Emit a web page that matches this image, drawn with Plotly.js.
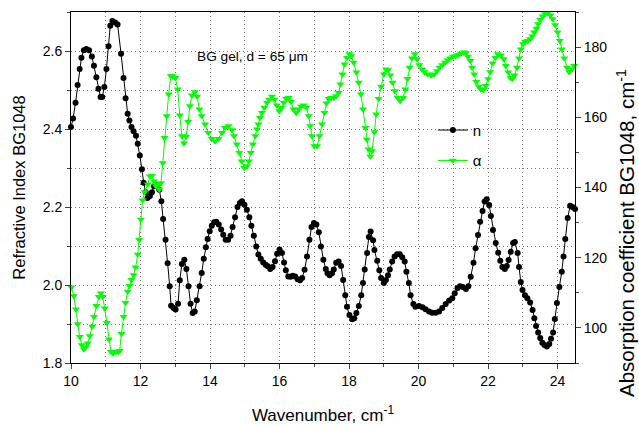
<!DOCTYPE html>
<html>
<head>
<meta charset="utf-8">
<script src="https://cdn.plot.ly/plotly-3.0.1.min.js"></script>
<style>html,body{margin:0;padding:0;background:#fff;}#chart{width:639px;height:425px;}</style>
</head>
<body>
<div id="chart"></div>
<script>
// Refractive index n (left axis)
const nX = [10.00,10.06,10.13,10.19,10.25,10.30,10.37,10.44,10.52,10.60,10.66,10.73,10.79,10.85,10.90,10.96,11.02,11.08,11.13,11.19,11.27,11.34,11.44,11.51,11.57,11.63,11.68,11.74,11.80,11.87,11.92,11.98,12.04,12.09,12.15,12.20,12.27,12.33,12.39,12.46,12.54,12.60,12.65,12.72,12.78,12.84,12.88,12.95,13.01,13.08,13.13,13.19,13.26,13.32,13.38,13.44,13.50,13.56,13.62,13.70,13.76,13.82,13.88,13.93,13.99,14.05,14.12,14.18,14.25,14.32,14.38,14.45,14.52,14.59,14.65,14.72,14.79,14.86,14.92,14.99,15.06,15.13,15.19,15.26,15.33,15.39,15.46,15.53,15.60,15.66,15.73,15.80,15.87,15.93,16.00,16.07,16.13,16.18,16.25,16.32,16.38,16.45,16.52,16.59,16.65,16.72,16.79,16.86,16.92,16.99,17.06,17.13,17.19,17.26,17.33,17.38,17.44,17.51,17.56,17.63,17.70,17.77,17.83,17.89,17.94,18.01,18.09,18.15,18.21,18.28,18.35,18.40,18.45,18.52,18.57,18.62,18.69,18.73,18.81,18.87,18.92,19.00,19.06,19.12,19.17,19.24,19.31,19.38,19.46,19.53,19.60,19.65,19.72,19.77,19.85,19.91,20.01,20.11,20.20,20.30,20.39,20.49,20.59,20.68,20.78,20.88,20.97,21.04,21.12,21.19,21.27,21.36,21.43,21.50,21.58,21.64,21.71,21.77,21.84,21.90,21.96,22.03,22.08,22.14,22.22,22.29,22.35,22.41,22.48,22.54,22.59,22.65,22.72,22.77,22.85,22.89,22.94,22.99,23.06,23.13,23.21,23.28,23.33,23.38,23.44,23.50,23.56,23.62,23.69,23.76,23.81,23.87,23.92,23.98,24.05,24.12,24.17,24.22,24.29,24.36,24.43,24.50];
const nY = [2.405,2.427,2.467,2.513,2.554,2.583,2.602,2.605,2.602,2.586,2.562,2.533,2.503,2.482,2.482,2.508,2.554,2.612,2.665,2.677,2.673,2.668,2.593,2.531,2.479,2.439,2.422,2.405,2.394,2.383,2.362,2.332,2.297,2.262,2.238,2.223,2.228,2.238,2.253,2.256,2.244,2.215,2.169,2.116,2.056,1.997,1.947,1.941,1.937,1.952,2.012,2.054,2.065,2.041,1.997,1.952,1.928,1.932,1.961,1.997,2.031,2.067,2.097,2.118,2.138,2.152,2.161,2.162,2.155,2.142,2.129,2.116,2.116,2.126,2.149,2.174,2.200,2.210,2.215,2.206,2.193,2.174,2.152,2.126,2.099,2.078,2.067,2.058,2.052,2.048,2.041,2.046,2.061,2.080,2.091,2.082,2.058,2.038,2.022,2.021,2.024,2.022,2.015,2.012,2.018,2.039,2.073,2.116,2.149,2.159,2.155,2.135,2.099,2.065,2.041,2.030,2.025,2.030,2.040,2.057,2.060,2.049,2.013,1.974,1.944,1.923,1.912,1.915,1.928,1.946,1.974,2.005,2.040,2.082,2.123,2.137,2.115,2.090,2.062,2.038,2.018,2.005,2.013,2.025,2.040,2.060,2.073,2.079,2.079,2.071,2.060,2.034,2.005,1.974,1.951,1.944,1.946,1.943,1.938,1.932,1.929,1.929,1.932,1.941,1.951,1.960,1.966,1.979,1.992,1.997,1.995,1.990,1.997,2.021,2.057,2.094,2.128,2.162,2.190,2.214,2.220,2.205,2.177,2.141,2.108,2.083,2.062,2.046,2.041,2.049,2.064,2.085,2.108,2.110,2.082,2.046,2.008,1.987,1.974,1.966,1.955,1.936,1.915,1.895,1.878,1.864,1.852,1.846,1.842,1.849,1.862,1.878,1.913,1.954,1.995,2.034,2.073,2.118,2.172,2.203,2.200,2.195];

// Absorption coefficient alpha (right axis)
const aX = [10.01,10.08,10.14,10.19,10.25,10.31,10.37,10.42,10.48,10.54,10.61,10.66,10.73,10.80,10.86,10.91,10.97,11.03,11.09,11.15,11.21,11.29,11.36,11.40,11.45,11.51,11.57,11.63,11.68,11.74,11.80,11.86,11.92,11.96,12.01,12.06,12.12,12.21,12.27,12.33,12.39,12.44,12.49,12.54,12.59,12.64,12.69,12.75,12.81,12.87,12.92,13.00,13.07,13.13,13.19,13.25,13.31,13.37,13.42,13.48,13.56,13.63,13.69,13.76,13.86,13.95,14.05,14.14,14.24,14.34,14.43,14.53,14.63,14.69,14.77,14.84,14.91,14.98,15.06,15.12,15.17,15.23,15.30,15.35,15.39,15.44,15.49,15.56,15.64,15.70,15.78,15.85,15.92,15.99,16.06,16.12,16.19,16.26,16.33,16.40,16.48,16.55,16.62,16.69,16.77,16.84,16.88,16.93,17.00,17.08,17.15,17.22,17.29,17.35,17.41,17.48,17.56,17.63,17.70,17.75,17.81,17.87,17.94,18.01,18.06,18.13,18.21,18.28,18.34,18.40,18.47,18.51,18.56,18.61,18.66,18.73,18.78,18.85,18.92,19.00,19.06,19.12,19.19,19.25,19.32,19.40,19.47,19.55,19.62,19.68,19.74,19.81,19.89,19.95,20.02,20.10,20.17,20.26,20.36,20.45,20.53,20.60,20.68,20.76,20.84,20.91,20.99,21.07,21.14,21.22,21.30,21.36,21.42,21.49,21.54,21.60,21.66,21.73,21.79,21.87,21.93,22.00,22.06,22.13,22.21,22.28,22.37,22.45,22.51,22.58,22.64,22.70,22.76,22.83,22.89,22.94,23.00,23.07,23.14,23.21,23.27,23.33,23.39,23.44,23.50,23.57,23.64,23.71,23.79,23.86,23.93,24.00,24.06,24.12,24.19,24.27,24.33,24.41,24.48];
const aY = [111.6,109.1,105.3,101.1,97.5,95.1,93.9,94.5,95.6,97.7,100.4,103.2,106.3,108.9,109.9,108.9,105.6,101.5,96.8,93.2,92.8,93.2,93.2,93.5,98.3,103.2,107.2,110.4,112.0,113.7,115.1,117.3,120.9,125.1,130.9,136.4,138.7,140.9,143.2,143.4,141.8,140.4,140.9,139.4,141.3,147.0,154.2,160.4,166.6,171.8,171.8,171.3,168.0,160.6,154.7,152.6,154.5,158.7,163.2,166.3,167.2,165.9,162.3,160.4,158.0,155.6,153.9,153.2,153.9,155.6,157.0,157.5,156.4,154.7,152.3,149.9,147.5,145.6,146.1,147.5,149.9,152.3,154.7,156.6,158.0,159.9,161.3,162.8,164.2,165.1,165.9,165.1,163.4,161.8,162.8,164.2,165.3,165.6,164.4,162.3,161.3,162.3,163.1,163.4,162.8,160.4,157.5,154.7,151.8,151.8,154.7,158.0,161.3,164.0,165.3,165.6,165.6,166.1,167.0,169.4,172.3,175.1,177.0,178.0,177.5,175.6,172.8,169.9,166.6,162.3,157.0,153.7,150.9,148.8,150.4,155.8,160.9,165.3,168.8,172.3,173.7,173.5,172.0,169.9,167.5,165.6,164.7,165.6,168.0,171.0,174.2,176.8,178.0,176.6,174.9,173.7,172.9,172.3,172.0,172.3,173.2,174.2,174.9,175.6,176.3,176.8,177.3,177.5,177.8,178.2,178.5,178.3,177.3,176.1,174.2,172.3,170.1,168.8,168.0,167.8,169.0,170.9,172.9,175.4,177.0,178.0,177.7,176.6,174.7,172.8,171.3,171.0,172.0,174.2,176.8,179.4,180.9,181.5,181.8,182.3,183.1,184.2,185.3,186.6,187.8,188.8,189.4,189.7,189.1,188.0,186.3,184.2,181.8,179.4,176.8,174.2,172.9,173.7,174.7];

const seriesNames = ['n', 'α'];
const xTitle = 'Wavenumber, cm<sup>-1</sup>';
const yTitle = 'Refractive Index BG1048';
const y2Title = 'Absorption coefficient BG1048, cm<sup>-1</sup>';
const note = 'BG gel, d = 65 μm';

const FONT = 'Arial, "Liberation Sans", sans-serif';
const GREEN = '#00ff00';

const traces = [
  {x: nX, y: nY, name: seriesNames[0], type: 'scatter', mode: 'lines+markers',
   line: {color: '#000', width: 1}, marker: {symbol: 'circle', size: 6, color: '#000'},
   legendgroup: 'g1', cliponaxis: false},
  {x: aX, y: aY, name: seriesNames[1], type: 'scatter', mode: 'lines+markers', yaxis: 'y2',
   line: {color: GREEN, width: 1}, marker: {symbol: 'triangle-down', size: 7, color: GREEN},
   legendgroup: 'g2', cliponaxis: false}
];

const gridStyle = {gridcolor: '#777', griddash: '1px,3px', gridwidth: 1};

const layout = {
  width: 639, height: 425,
  margin: {l: 71, r: 64, t: 12, b: 62},
  paper_bgcolor: '#fff', plot_bgcolor: '#fff',
  font: {family: FONT, size: 14, color: '#000'},
  showlegend: true,
  legend: {x: 0.718, y: 0.71, xanchor: 'left', yanchor: 'top', bgcolor: 'rgba(0,0,0,0)',
           font: {size: 15}, tracegroupgap: 8},
  xaxis: Object.assign({range: [10, 24.5], dtick: 2, tick0: 10, ticks: 'outside', ticklen: 5, tickwidth: 1,
          showline: true, linecolor: '#000', linewidth: 1, mirror: true,
          showgrid: true, zeroline: false,
          minor: Object.assign({dtick: 1, ticks: 'outside', ticklen: 3, showgrid: true}, gridStyle),
          tickfont: {size: 14},
          title: {text: xTitle, font: {size: 17}, standoff: 22}}, gridStyle),
  yaxis: Object.assign({range: [1.8, 2.7], dtick: 0.2, tick0: 1.8, ticks: 'outside', ticklen: 5, tickformat: '.1f',
          showline: true, linecolor: '#000', linewidth: 1,
          showgrid: true, zeroline: false,
          minor: Object.assign({dtick: 0.1, ticks: 'outside', ticklen: 3, showgrid: true}, gridStyle),
          tickfont: {size: 14},
          title: {text: yTitle, font: {size: 16.5}, standoff: 12}}, gridStyle),
  yaxis2: {range: [90, 190], dtick: 20, tick0: 100, overlaying: 'y', side: 'right',
           ticks: 'outside', ticklen: 5, showline: true, linecolor: '#000', linewidth: 1,
           showgrid: false, zeroline: false,
           minor: {dtick: 10, ticks: 'outside', ticklen: 3},
           tickfont: {size: 14}},
  annotations: [
    {text: note, xref: 'paper', yref: 'paper', x: 0.2456, y: 0.872, xanchor: 'left', yanchor: 'middle',
     showarrow: false, font: {size: 13.7}},
    {text: y2Title, xref: 'paper', yref: 'paper', x: 1.101, y: 0.37, xanchor: 'center', yanchor: 'middle',
     textangle: -90, showarrow: false, font: {size: 20.5}}
  ]
};

Plotly.newPlot('chart', traces, layout, {displayModeBar: false, staticPlot: true});
</script>
</body>
</html>
